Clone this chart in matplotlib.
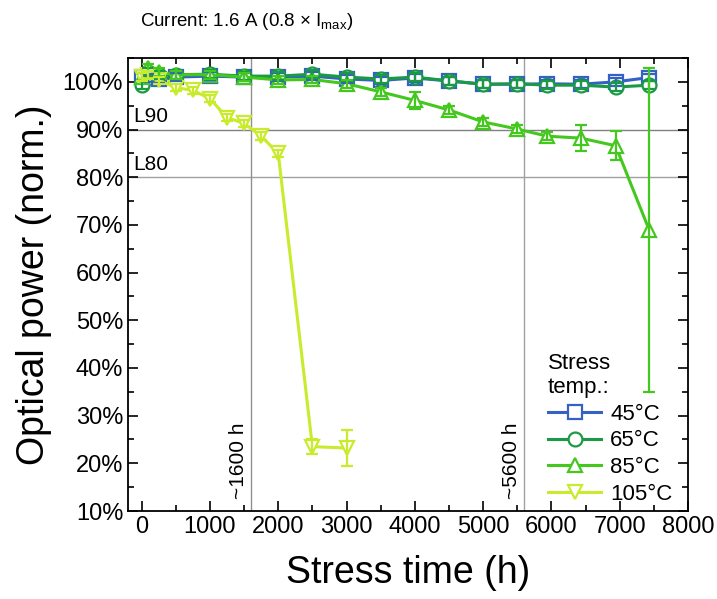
import matplotlib.pyplot as plt
from matplotlib.lines import Line2D
from matplotlib.ticker import MultipleLocator, FuncFormatter

plt.rcParams["font.family"] = ["Liberation Sans", "DejaVu Sans"]
plt.rcParams["mathtext.default"] = "regular"

# stress times (h) and normalised optical power (%)
time_main = [0, 100, 250, 500, 1000, 1500, 2000, 2500, 3000, 3500, 4000,
             4500, 5000, 5500, 5940, 6430, 6940, 7430]
power_45 = [101.0, 100.8, 100.5, 101.0, 101.2, 101.0, 101.0, 101.2, 100.6,
            100.3, 100.8, 100.2, 99.5, 99.5, 99.6, 99.5, 100.0, 100.9]
err_45 = [0.8] * 18
power_65 = [99.3, 102.0, 101.5, 101.5, 101.6, 101.2, 101.2, 101.6, 101.0,
            100.6, 101.0, 100.2, 99.5, 99.6, 99.3, 99.3, 98.9, 99.3]
err_65 = [0.8] * 18
power_85 = [101.0, 103.0, 102.0, 101.5, 101.5, 101.0, 100.4, 100.5, 99.6,
            97.9, 96.1, 94.1, 91.6, 90.1, 88.6, 88.2, 86.6, 69.0]
err_85 = [0.8, 0.8, 0.8, 0.8, 0.8, 0.8, 0.8, 0.8, 0.8,
          0.8, 1.7, 0.8, 0.8, 0.8, 0.8, 2.8, 3.0, 34.0]
time_105 = [0, 100, 250, 500, 750, 1000, 1250, 1500, 1750, 2000, 2500, 3000]
power_105 = [101.0, 101.5, 100.3, 98.8, 98.2, 96.5, 92.5, 91.3, 88.6, 85.0,
             23.5, 23.2]
err_105 = [0.8, 0.8, 0.8, 0.8, 0.8, 0.8, 0.8, 0.8, 0.8, 0.8, 1.5, 3.7]

series = [
    ("45°C", time_main, power_45, err_45, "#3362c4", "s"),
    ("65°C", time_main, power_65, err_65, "#1a9a45", "o"),
    ("85°C", time_main, power_85, err_85, "#45c81e", "^"),
    ("105°C", time_105, power_105, err_105, "#c8ec2c", "v"),
]

fig = plt.figure(figsize=(7.17, 5.99), dpi=100)
ax = fig.add_axes([128 / 717, 1 - 511 / 599, 560 / 717, 453 / 599])

ax.axhline(90, color="#808080", lw=1, zorder=1)
ax.axhline(80, color="#a0a0a0", lw=1, zorder=1)
ax.axvline(1600, color="#909090", lw=1, zorder=1)
ax.axvline(5600, color="#a0a0a0", lw=1, zorder=1)

handles = []
for label, t, p, e, c, m in series:
    ax.errorbar(t, p, yerr=e, color=c, marker=m, ms=10, mfc="white",
                mec=c, mew=1.6, lw=2.2, elinewidth=1.6, capsize=4,
                capthick=1.6, barsabove=True)
    handles.append(Line2D([], [], color=c, marker=m, ms=10, mfc="white",
                          mec=c, mew=1.6, lw=2.2, label=label))

ax.text(-120, 91.5, "L90", fontsize=15)
ax.text(-120, 81.5, "L80", fontsize=15)
ax.text(1560, 12.5, "~1600 h", rotation=90, ha="right", va="bottom",
        fontsize=15)
ax.text(5560, 12.5, "~5600 h", rotation=90, ha="right", va="bottom",
        fontsize=15)

ax.set_xlim(-200, 8000)
ax.set_ylim(10, 105)
ax.xaxis.set_major_locator(MultipleLocator(1000))
ax.xaxis.set_minor_locator(MultipleLocator(500))
ax.yaxis.set_major_locator(MultipleLocator(10))
ax.yaxis.set_minor_locator(MultipleLocator(5))
ax.yaxis.set_major_formatter(FuncFormatter(lambda v, _: f"{v:.0f}%"))
ax.tick_params(which="both", direction="in", top=True, right=True,
               labelsize=17, width=1.2)
ax.tick_params(which="major", length=7)
ax.tick_params(which="minor", length=4)
for s in ax.spines.values():
    s.set_linewidth(1.3)

ax.set_xlabel("Stress time (h)", fontsize=27, labelpad=12)
ax.set_ylabel("Optical power (norm.)", fontsize=27, labelpad=8)

fig.text(140 / 717, 1 - 22 / 599, "Current: 1.6 A (0.8 $\\times$ I$_{max}$)",
         fontsize=13.5, va="center")

leg = ax.legend(handles=handles, loc="lower right",
                bbox_to_anchor=(1.0, -0.02),
                frameon=False, fontsize=16, title="Stress\ntemp.:",
                title_fontsize=16, alignment="left", handlelength=2.4,
                handletextpad=0.4, labelspacing=0.25, borderaxespad=0.3)

fig.savefig("out.png", dpi=100)
